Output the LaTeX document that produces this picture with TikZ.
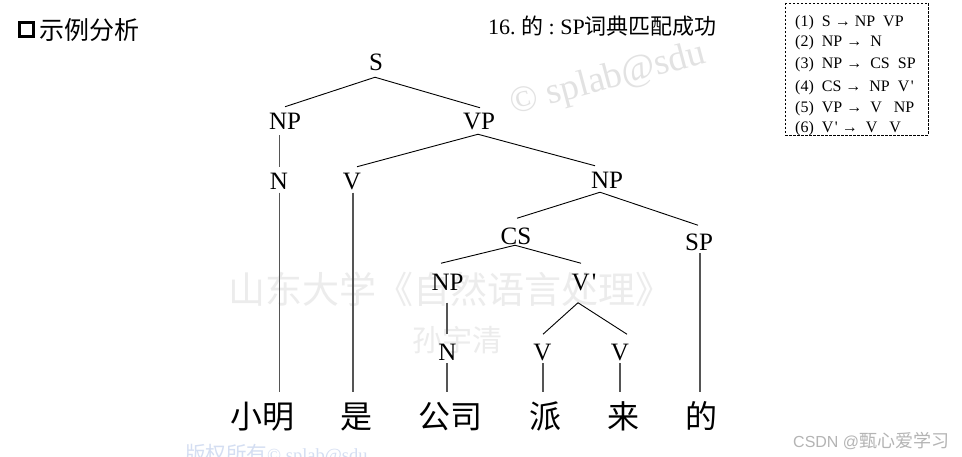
\documentclass[tikz,border=0pt]{standalone}
\usepackage{fontspec}
\newfontfamily\tms{Liberation Serif}
\newfontfamily\cjk{Noto Sans CJK SC}
\newfontfamily\arl{Liberation Sans}
\usetikzlibrary{calc}
\definecolor{vgray}{RGB}{85,85,85}
\definecolor{wmgray}{RGB}{236,236,236}
\definecolor{wmgray2}{RGB}{226,226,226}
\definecolor{wmblue}{RGB}{212,222,242}
\definecolor{csdngray}{RGB}{180,180,180}
\begin{document}
\begin{tikzpicture}[x=1pt,y=-1pt,
  lab/.style={font=\tms\fontsize{25}{25}\selectfont, inner sep=0pt, outer sep=0pt, text height=16.5pt, text depth=0pt},
  word/.style={font=\cjk\fontsize{32}{32}\selectfont, inner sep=0pt, outer sep=0pt, text height=28pt, text depth=0pt, anchor=base},
  rule/.style={font=\tms\fontsize{16}{16}\selectfont, inner sep=0pt, anchor=base west},
  edge/.style={line width=0.9pt, black},
  vline/.style={line width=1.2pt, vgray},
]
\useasboundingbox (0,0) rectangle (962,457);
\fill[white] (0,0) rectangle (962,457);

% watermarks
\node[font=\tms\fontsize{37}{37}\selectfont, text=wmgray2, rotate=15, inner sep=0pt] (wm1) at (608,80) {© splab@sdu};
\node[font=\cjk\fontsize{37}{37}\selectfont, text=wmgray, inner sep=0pt] (wm2) at (450,289) {山东大学《自然语言处理》};
\node[font=\cjk\fontsize{30}{30}\selectfont, text=wmgray, inner sep=0pt] (wm3) at (457,340) {孙宇清};
\node[text=wmblue, inner sep=0pt, anchor=base west] (wm4) at (185,461) {{\cjk\fontsize{20.5}{20.5}\selectfont 版权所有}{\tms\fontsize{18.5}{18.5}\selectfont ©\ splab@sdu}};
\node[text=csdngray, inner sep=0pt, anchor=base west] (csdn) at (793,447) {{\arl\fontsize{16}{16}\selectfont CSDN @}{\cjk\fontsize{18}{18}\selectfont 甄心爱学习}};

% title
\node[draw, line width=3pt, minimum size=14pt, inner sep=0pt] (tbox) at (26.5,30) {};
\node[font=\cjk\fontsize{25}{25}\selectfont, inner sep=0pt, anchor=west] (title) at (39,30) {示例分析};
\node[inner sep=0pt, anchor=base west] (head) at (488,35) {{\tms\fontsize{22}{22}\selectfont 16.\ }{\cjk\fontsize{22}{22}\selectfont 的}{\tms\fontsize{22}{22}\selectfont\ :\ SP}{\cjk\fontsize{22}{22}\selectfont 词典匹配成功}};

% rules box
\draw[line width=0.8pt, dash pattern=on 2.5pt off 1.5pt] (785,3) rectangle (928,135);
\node[rule] (r1) at (795,26.5) {(1)\ \ S → NP\ \ VP};
\node[rule] (r2) at (795,46.5) {(2)\ \ NP → \ N};
\node[rule] (r3) at (795,69) {(3)\ \ NP → \ CS\ \ SP};
\node[rule] (r4) at (795,91.5) {(4)\ \ CS → \ NP\ \ V\kern1.5pt'};
\node[rule] (r5) at (795,112.5) {(5)\ \ VP → \ V\ \ \ NP};
\node[rule] (r6) at (795,133) {(6)\ \ V\kern1.5pt' → \ V\ \ \ V};

% tree labels
\node[lab] (S)   at (376,62)    {S};
\node[lab] (NP1) at (285,121)   {NP};
\node[lab] (VP)  at (479,121)   {VP};
\node[lab] (N1)  at (279,181)   {N};
\node[lab] (V1)  at (352,181)   {V};
\node[lab] (NP2) at (607,180)   {NP};
\node[lab] (CS)  at (516,236.5) {CS};
\node[lab] (SP)  at (699,242.5) {SP};
\node[lab] (NP3) at (447.5,282) {NP};
\node[lab] (Vp)  at (584,282)   {V\kern2pt'};
\node[lab] (N2)  at (447.5,352.5) {N};
\node[lab] (V2)  at (542.5,352.5) {V};
\node[lab] (V3)  at (620,352.5) {V};

% words
\node[word] (xm) at (262.5,428) {小明};
\node[word] (shi) at (356.5,428) {是};
\node[word] (gs) at (450,428) {公司};
\node[word] (pai) at (545,428) {派};
\node[word] (lai) at (623,428) {来};
\node[word] (de) at (701,428) {的};

% diagonal edges
\draw[edge] ($(S.south)+(-1,7)$) -- ($(NP1.north)+(0,-6)$);
\draw[edge] ($(S.south)+(-1,7)$) -- ($(VP.north)+(1,-5)$);
\draw[edge] ($(VP.south)+(-1,5)$) -- ($(V1.north)+(5,-6)$);
\draw[edge] ($(VP.south)+(-1,5)$) -- ($(NP2.north)+(-12,-6)$);
\draw[edge] ($(NP2.south)+(-7,4)$) -- ($(CS.north)+(1,-10)$);
\draw[edge] ($(NP2.south)+(-7,4)$) -- ($(SP.north)+(-1,-9)$);
\draw[edge] ($(CS.south)+(-1,0.5)$) -- ($(NP3.north)+(-6.5,-10.5)$);
\draw[edge] ($(CS.south)+(-1,0.5)$) -- ($(Vp.north)+(-3,-10.5)$);
\draw[edge] ($(Vp.south)+(-6,12.5)$) -- ($(V2.north)+(0.5,-10)$);
\draw[edge] ($(Vp.south)+(-6,12.5)$) -- ($(V3.north)+(7,-10)$);

% vertical edges
\draw[vline] ($(N1.north |- NP1.south)+(0.5,6)$) -- ($(N1.north)+(0.5,-6)$);
\draw[vline] ($(NP3.south)+(-0.5,12.5)$) -- ($(N2.north)+(-0.5,-10)$);
\draw[vline] ($(N1.south)+(0.5,3.5)$) -- ($(N1.south |- xm.north)+(0.5,-8)$);
\draw[vline] ($(V1.south)+(1,3.5)$) -- ($(V1.south |- shi.north)+(1,-8)$);
\draw[vline] ($(N2.south)+(-0.5,2.5)$) -- ($(N2.south |- gs.north)+(-0.5,-8)$);
\draw[vline] ($(V2.south)+(0.5,2.5)$) -- ($(V2.south |- pai.north)+(0.5,-8)$);
\draw[vline] ($(V3.south)+(0,2.5)$) -- ($(V3.south |- lai.north)+(0,-8)$);
\draw[vline] ($(SP.south)+(1,2.5)$) -- ($(SP.south |- de.north)+(1,-8)$);
\end{tikzpicture}
\end{document}
